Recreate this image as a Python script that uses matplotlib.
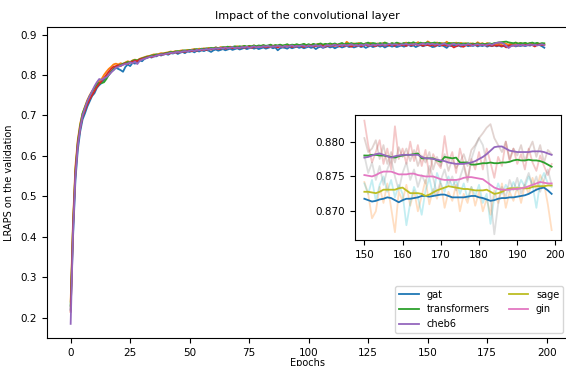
import matplotlib
matplotlib.use("Agg")
import matplotlib.pyplot as plt
from matplotlib.lines import Line2D
import numpy as np

plt.rcParams['font.size'] = 7.5

# validation LRAPS per epoch (0..199)
gat = [0.220, 0.400, 0.540, 0.615, 0.660, 0.690, 0.705, 0.722, 0.735, 0.748,
       0.755, 0.768, 0.775, 0.780, 0.788, 0.795, 0.800, 0.808, 0.812, 0.818,
       0.815, 0.812, 0.808, 0.820, 0.826, 0.822, 0.830, 0.828, 0.832, 0.836,
       0.834, 0.840, 0.842, 0.845, 0.843, 0.847, 0.846, 0.850, 0.848, 0.851,
       0.852, 0.850, 0.854, 0.853, 0.856, 0.852, 0.855, 0.857, 0.854, 0.858,
       0.857, 0.859, 0.856, 0.860, 0.858, 0.861, 0.859, 0.862, 0.860, 0.857,
       0.861, 0.863, 0.860, 0.862, 0.864, 0.861, 0.863, 0.865, 0.862, 0.864,
       0.866, 0.863, 0.865, 0.867, 0.864, 0.866, 0.868, 0.865, 0.867, 0.864,
       0.866, 0.868, 0.865, 0.867, 0.869, 0.866, 0.868, 0.861, 0.866, 0.868,
       0.867, 0.865, 0.869, 0.866, 0.868, 0.870, 0.867, 0.869, 0.866, 0.868,
       0.870, 0.867, 0.869, 0.864, 0.868, 0.870, 0.867, 0.869, 0.871, 0.868,
       0.870, 0.866, 0.869, 0.871, 0.868, 0.870, 0.872, 0.869, 0.871, 0.868,
       0.870, 0.872, 0.869, 0.871, 0.867, 0.870, 0.872, 0.869, 0.871, 0.873,
       0.870, 0.872, 0.868, 0.871, 0.873, 0.870, 0.872, 0.869, 0.871, 0.873,
       0.870, 0.872, 0.874, 0.871, 0.873, 0.869, 0.872, 0.874, 0.871, 0.873,
       0.8742, 0.8725, 0.8690, 0.8700, 0.8735, 0.8712, 0.8740, 0.8705, 0.8670, 0.8728,
       0.8715, 0.8738, 0.8708, 0.8730, 0.8700, 0.8722, 0.8745, 0.8710, 0.8732, 0.8718,
       0.8740, 0.8705, 0.8728, 0.8715, 0.8738, 0.8700, 0.8725, 0.8712, 0.8735, 0.8708,
       0.8728, 0.8700, 0.8718, 0.8695, 0.8730, 0.8712, 0.8740, 0.8705, 0.8728, 0.8715,
       0.8735, 0.8712, 0.8738, 0.8725, 0.8748, 0.8730, 0.8752, 0.8740, 0.8710, 0.8673]

transformers = [0.240, 0.440, 0.575, 0.640, 0.680, 0.705, 0.722, 0.738, 0.750, 0.760,
                0.768, 0.778, 0.785, 0.790, 0.800, 0.808, 0.815, 0.820, 0.826, 0.828,
                0.826, 0.829, 0.827, 0.831, 0.834, 0.832, 0.836, 0.838, 0.836, 0.840,
                0.842, 0.844, 0.846, 0.847, 0.849, 0.851, 0.850, 0.852, 0.854, 0.853,
                0.855, 0.856, 0.858, 0.857, 0.859, 0.858, 0.860, 0.861, 0.859, 0.862,
                0.861, 0.863, 0.864, 0.862, 0.865, 0.864, 0.866, 0.864, 0.867, 0.865,
                0.866, 0.868, 0.866, 0.869, 0.867, 0.869, 0.868, 0.870, 0.868, 0.869,
                0.871, 0.869, 0.870, 0.872, 0.869, 0.871, 0.870, 0.873, 0.870, 0.872,
                0.871, 0.873, 0.870, 0.872, 0.874, 0.871, 0.873, 0.872, 0.874, 0.871,
                0.873, 0.875, 0.872, 0.874, 0.873, 0.875, 0.872, 0.874, 0.876, 0.873,
                0.875, 0.873, 0.876, 0.874, 0.877, 0.875, 0.873, 0.876, 0.874, 0.877,
                0.875, 0.877, 0.874, 0.876, 0.878, 0.875, 0.882, 0.877, 0.875, 0.878,
                0.876, 0.879, 0.877, 0.875, 0.878, 0.876, 0.879, 0.877, 0.875, 0.878,
                0.876, 0.878, 0.880, 0.877, 0.875, 0.878, 0.876, 0.879, 0.877, 0.875,
                0.878, 0.880, 0.877, 0.879, 0.876, 0.878, 0.881, 0.877, 0.879, 0.876,
                0.8830, 0.8795, 0.8770, 0.8785, 0.8802, 0.8768, 0.8790, 0.8760, 0.8822, 0.8775,
                0.8790, 0.8768, 0.8800, 0.8772, 0.8795, 0.8765, 0.8788, 0.8750, 0.8782, 0.8770,
                0.8762, 0.8808, 0.8770, 0.8785, 0.8755, 0.8790, 0.8768, 0.8745, 0.8775, 0.8760,
                0.8785, 0.8760, 0.8790, 0.8770, 0.8748, 0.8778, 0.8765, 0.8800, 0.8772, 0.8790,
                0.8768, 0.8782, 0.8760, 0.8790, 0.8770, 0.8758, 0.8780, 0.8765, 0.8752, 0.8768]

cheb6 = [0.230, 0.430, 0.565, 0.635, 0.675, 0.705, 0.720, 0.735, 0.748, 0.758,
         0.768, 0.776, 0.781, 0.780, 0.782, 0.790, 0.800, 0.808, 0.815, 0.820,
         0.823, 0.825, 0.828, 0.830, 0.832, 0.831, 0.835, 0.837, 0.836, 0.839,
         0.841, 0.843, 0.845, 0.846, 0.848, 0.849, 0.851, 0.850, 0.852, 0.853,
         0.854, 0.855, 0.857, 0.856, 0.858, 0.859, 0.858, 0.860, 0.861, 0.860,
         0.862, 0.861, 0.863, 0.864, 0.862, 0.865, 0.864, 0.866, 0.865, 0.867,
         0.866, 0.868, 0.866, 0.867, 0.869, 0.868, 0.870, 0.868, 0.869, 0.871,
         0.869, 0.871, 0.870, 0.872, 0.870, 0.872, 0.871, 0.873, 0.871, 0.873,
         0.872, 0.874, 0.872, 0.873, 0.875, 0.872, 0.874, 0.873, 0.875, 0.873,
         0.874, 0.876, 0.873, 0.875, 0.874, 0.876, 0.874, 0.875, 0.877, 0.874,
         0.876, 0.874, 0.877, 0.875, 0.876, 0.878, 0.875, 0.877, 0.876, 0.878,
         0.876, 0.878, 0.875, 0.877, 0.879, 0.876, 0.878, 0.877, 0.879, 0.876,
         0.878, 0.877, 0.879, 0.876, 0.878, 0.880, 0.877, 0.879, 0.878, 0.876,
         0.879, 0.877, 0.880, 0.878, 0.876, 0.879, 0.877, 0.880, 0.878, 0.877,
         0.879, 0.877, 0.880, 0.878, 0.881, 0.878, 0.877, 0.880, 0.878, 0.879,
         0.8805, 0.8785, 0.8790, 0.8802, 0.8775, 0.8795, 0.8768, 0.8785, 0.8770, 0.8792,
         0.8778, 0.8790, 0.8772, 0.8788, 0.8765, 0.8780, 0.8770, 0.8785, 0.8760, 0.8778,
         0.8765, 0.8782, 0.8758, 0.8775, 0.8762, 0.8770, 0.8782, 0.8765, 0.8788, 0.8795,
         0.8805, 0.8812, 0.8820, 0.8825, 0.8805, 0.8795, 0.8785, 0.8800, 0.8775, 0.8790,
         0.8780, 0.8795, 0.8772, 0.8788, 0.8800, 0.8778, 0.8795, 0.8770, 0.8788, 0.8782]

sage = [0.215, 0.425, 0.560, 0.630, 0.668, 0.698, 0.712, 0.728, 0.740, 0.750,
        0.760, 0.770, 0.778, 0.785, 0.792, 0.800, 0.808, 0.815, 0.820, 0.822,
        0.824, 0.822, 0.826, 0.829, 0.827, 0.831, 0.833, 0.835, 0.834, 0.838,
        0.840, 0.841, 0.843, 0.845, 0.844, 0.847, 0.848, 0.849, 0.850, 0.851,
        0.853, 0.852, 0.854, 0.855, 0.856, 0.855, 0.857, 0.858, 0.857, 0.859,
        0.860, 0.859, 0.861, 0.860, 0.862, 0.861, 0.863, 0.862, 0.864, 0.863,
        0.864, 0.866, 0.864, 0.865, 0.867, 0.865, 0.866, 0.868, 0.866, 0.867,
        0.868, 0.866, 0.869, 0.867, 0.868, 0.870, 0.867, 0.869, 0.868, 0.870,
        0.869, 0.871, 0.868, 0.870, 0.869, 0.871, 0.870, 0.868, 0.871, 0.869,
        0.871, 0.870, 0.872, 0.869, 0.871, 0.870, 0.872, 0.871, 0.869, 0.872,
        0.871, 0.873, 0.870, 0.872, 0.871, 0.873, 0.872, 0.870, 0.873, 0.871,
        0.873, 0.872, 0.874, 0.871, 0.873, 0.872, 0.874, 0.872, 0.870, 0.873,
        0.872, 0.874, 0.871, 0.873, 0.875, 0.872, 0.874, 0.873, 0.871, 0.874,
        0.873, 0.875, 0.872, 0.874, 0.873, 0.875, 0.872, 0.874, 0.876, 0.873,
        0.874, 0.872, 0.875, 0.873, 0.874, 0.876, 0.873, 0.875, 0.872, 0.874,
        0.8740, 0.8725, 0.8745, 0.8715, 0.8738, 0.8750, 0.8728, 0.8745, 0.8720, 0.8738,
        0.8725, 0.8680, 0.8712, 0.8735, 0.8720, 0.8695, 0.8730, 0.8748, 0.8722, 0.8755,
        0.8740, 0.8728, 0.8750, 0.8735, 0.8745, 0.8725, 0.8740, 0.8718, 0.8735, 0.8722,
        0.8738, 0.8712, 0.8725, 0.8682, 0.8720, 0.8740, 0.8725, 0.8738, 0.8728, 0.8742,
        0.8730, 0.8745, 0.8735, 0.8750, 0.8738, 0.8705, 0.8742, 0.8755, 0.8740, 0.8735]

gin = [0.185, 0.410, 0.550, 0.625, 0.668, 0.700, 0.718, 0.735, 0.748, 0.760,
       0.772, 0.782, 0.790, 0.788, 0.792, 0.795, 0.800, 0.806, 0.812, 0.818,
       0.820, 0.823, 0.825, 0.827, 0.828, 0.831, 0.829, 0.833, 0.827, 0.835,
       0.838, 0.840, 0.842, 0.844, 0.846, 0.845, 0.848, 0.849, 0.851, 0.850,
       0.852, 0.853, 0.855, 0.854, 0.856, 0.857, 0.856, 0.858, 0.859, 0.858,
       0.860, 0.861, 0.859, 0.862, 0.861, 0.863, 0.862, 0.864, 0.863, 0.865,
       0.864, 0.866, 0.865, 0.867, 0.865, 0.868, 0.866, 0.867, 0.869, 0.866,
       0.868, 0.867, 0.869, 0.868, 0.870, 0.867, 0.869, 0.871, 0.868, 0.870,
       0.869, 0.871, 0.870, 0.872, 0.869, 0.871, 0.870, 0.872, 0.871, 0.869,
       0.872, 0.870, 0.871, 0.873, 0.870, 0.872, 0.871, 0.873, 0.872, 0.870,
       0.873, 0.871, 0.872, 0.874, 0.871, 0.873, 0.868, 0.872, 0.874, 0.872,
       0.873, 0.875, 0.872, 0.874, 0.873, 0.875, 0.872, 0.874, 0.876, 0.873,
       0.874, 0.872, 0.875, 0.873, 0.876, 0.874, 0.872, 0.875, 0.873, 0.876,
       0.874, 0.876, 0.873, 0.875, 0.877, 0.874, 0.876, 0.875, 0.873, 0.876,
       0.875, 0.877, 0.874, 0.876, 0.875, 0.877, 0.874, 0.876, 0.878, 0.875,
       0.8780, 0.8755, 0.8770, 0.8745, 0.8765, 0.8738, 0.8760, 0.8775, 0.8750, 0.8730,
       0.8755, 0.8770, 0.8745, 0.8760, 0.8735, 0.8752, 0.8740, 0.8765, 0.8748, 0.8725,
       0.8745, 0.8760, 0.8738, 0.8750, 0.8730, 0.8748, 0.8765, 0.8742, 0.8775, 0.8792,
       0.8805, 0.8795, 0.8770, 0.8720, 0.8667, 0.8710, 0.8735, 0.8720, 0.8745, 0.8730,
       0.8748, 0.8725, 0.8740, 0.8755, 0.8735, 0.8750, 0.8728, 0.8745, 0.8760, 0.8738]

# smoothed curves shown in the zoom (epochs 150..199)
gat_smooth = [0.8718, 0.8716, 0.8714, 0.8715, 0.8717, 0.8718, 0.8720, 0.8719, 0.8716, 0.8713,
              0.8716, 0.8718, 0.8718, 0.8719, 0.8720, 0.8722, 0.8722, 0.8721, 0.8722, 0.8723,
              0.8724, 0.8724, 0.8722, 0.8720, 0.8720, 0.8720, 0.8720, 0.8721, 0.8722, 0.8722,
              0.8720, 0.8719, 0.8717, 0.8715, 0.8716, 0.8718, 0.8719, 0.8719, 0.8720, 0.8720,
              0.8721, 0.8722, 0.8723, 0.8725, 0.8728, 0.8731, 0.8733, 0.8734, 0.8730, 0.8725]
transformers_smooth = [0.8780, 0.8780, 0.8781, 0.8781, 0.8780, 0.8780, 0.8779, 0.8778, 0.8777, 0.8779,
                       0.8780, 0.8781, 0.8781, 0.8782, 0.8783, 0.8776, 0.8776, 0.8776, 0.8776, 0.8773,
                       0.8771, 0.8778, 0.8777, 0.8776, 0.8777, 0.8770, 0.8770, 0.8770, 0.8767, 0.8767,
                       0.8768, 0.8769, 0.8769, 0.8770, 0.8769, 0.8769, 0.8770, 0.8770, 0.8771, 0.8773,
                       0.8774, 0.8773, 0.8773, 0.8774, 0.8773, 0.8773, 0.8772, 0.8770, 0.8767, 0.8764]
cheb6_smooth = [0.8777, 0.8778, 0.8780, 0.8782, 0.8783, 0.8781, 0.8779, 0.8777, 0.8779, 0.8780,
                0.8781, 0.8781, 0.8781, 0.8781, 0.8781, 0.8778, 0.8776, 0.8776, 0.8775, 0.8774,
                0.8773, 0.8772, 0.8770, 0.8769, 0.8768, 0.8768, 0.8768, 0.8769, 0.8770, 0.8772,
                0.8775, 0.8778, 0.8782, 0.8787, 0.8792, 0.8793, 0.8793, 0.8790, 0.8787, 0.8786,
                0.8785, 0.8785, 0.8785, 0.8785, 0.8786, 0.8786, 0.8786, 0.8785, 0.8783, 0.8781]
sage_smooth = [0.8728, 0.8728, 0.8727, 0.8726, 0.8728, 0.8731, 0.8731, 0.8731, 0.8731, 0.8733,
               0.8734, 0.8730, 0.8726, 0.8726, 0.8726, 0.8725, 0.8722, 0.8724, 0.8727, 0.8730,
               0.8732, 0.8734, 0.8736, 0.8735, 0.8734, 0.8733, 0.8732, 0.8732, 0.8731, 0.8730,
               0.8730, 0.8730, 0.8731, 0.8728, 0.8725, 0.8726, 0.8728, 0.8731, 0.8733, 0.8733,
               0.8733, 0.8733, 0.8733, 0.8733, 0.8735, 0.8736, 0.8736, 0.8736, 0.8737, 0.8737]
gin_smooth = [0.8752, 0.8751, 0.8750, 0.8752, 0.8755, 0.8757, 0.8757, 0.8757, 0.8755, 0.8753,
              0.8753, 0.8753, 0.8754, 0.8754, 0.8752, 0.8751, 0.8750, 0.8750, 0.8750, 0.8748,
              0.8746, 0.8745, 0.8745, 0.8745, 0.8745, 0.8746, 0.8748, 0.8749, 0.8749, 0.8748,
              0.8747, 0.8746, 0.8742, 0.8738, 0.8734, 0.8732, 0.8731, 0.8731, 0.8731, 0.8732,
              0.8732, 0.8733, 0.8734, 0.8736, 0.8738, 0.8740, 0.8742, 0.8741, 0.8740, 0.8740]

names = ['gat', 'transformers', 'cheb6', 'sage', 'gin']
raw = [gat, transformers, cheb6, sage, gin]
smooth = [gat_smooth, transformers_smooth, cheb6_smooth, sage_smooth, gin_smooth]
main_colors = ['C0', 'C1', 'C2', 'C3', 'C4']
smooth_colors = ['C0', 'C2', 'C4', 'C8', 'C6']
raw_colors = ['C1', 'C3', 'C5', 'C9', 'C7']

epochs = np.arange(200)
zoom_start = 150

fig = plt.figure(figsize=(5.66, 3.66), dpi=100)
ax = fig.add_axes([0.083, 0.0765, 0.9205, 0.849])
for vals, c in zip(raw, main_colors):
    ax.plot(epochs, vals, color=c, lw=1.3)
ax.set_title("Impact of the convolutional layer", fontsize=8)
ax.set_xlabel("Epochs", fontsize=7, labelpad=0)
ax.set_ylabel("LRAPS on the validation", fontsize=7, labelpad=5)

handles = [Line2D([], [], color=c, lw=1.3) for c in smooth_colors]
ax.legend(handles, names, loc='lower right', ncol=2, fontsize=7)

axins = fig.add_axes([0.6272, 0.3443, 0.364, 0.3415])
ep = epochs[zoom_start:]
for vals, c in zip(raw, raw_colors):
    axins.plot(ep, vals[zoom_start:], color=c, alpha=0.25, lw=1.3)
for vals, c in zip(smooth, smooth_colors):
    axins.plot(ep, vals, color=c, lw=1.3)
axins.set_yticks([0.870, 0.875, 0.880])

fig.savefig("out.png", dpi=100)
